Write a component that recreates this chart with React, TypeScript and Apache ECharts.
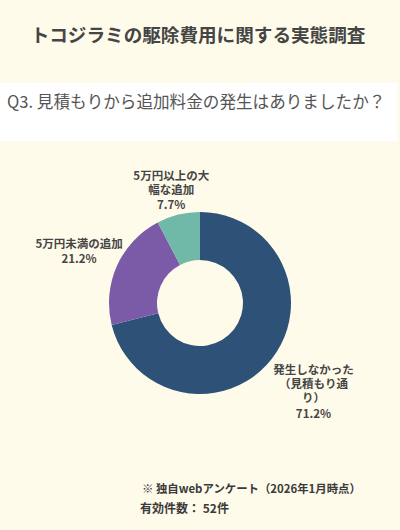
import * as echarts from 'echarts'
import { useEffect, useRef } from 'react'

// 回答カテゴリ（時計回り、12時の位置から）
const categories = ['発生しなかった（見積もり通り）', '5万円未満の追加', '5万円以上の大幅な追加']
// ラベル表示用の改行位置（元図の折り返しに合わせる）
const labelLines = [['発生しなかった', '（見積もり通', 'り）'], ['5万円未満の追加'], ['5万円以上の大', '幅な追加']]
const percents = [71.2, 21.2, 7.7]
const colors = ['#2e5177', '#7b5ba8', '#70b8a8']

const titleText = 'トコジラミの駆除費用に関する実態調査'
const questionText = 'Q3. 見積もりから追加料金の発生はありましたか？'
const noteLines = ['※ 独自webアンケート（2026年1月時点）', '有効件数： 52件']

const FONT = '"Noto Sans CJK JP", "Noto Sans", sans-serif'
const BG = '#fefbea'
const TEXT = '#454545'

// ラベル線は非表示だが、長さでラベル位置を調整する
const labelOffsets = [
  { length: 53, length2: -5 },
  { length: 35, length2: 1 },
  { length: 25, length2: -4 },
]

export default function App() {
  const ref = useRef<HTMLDivElement>(null)

  useEffect(() => {
    if (!ref.current) return
    const chart = echarts.init(ref.current, undefined, { renderer: 'svg' })
    chart.setOption({
      animation: false,
      backgroundColor: BG,
      textStyle: { fontFamily: FONT },
      graphic: [
        {
          type: 'rect',
          shape: { x: 0, y: 83, width: 397, height: 58 },
          style: { fill: '#ffffff' },
          z: -1,
        },
        {
          type: 'text',
          x: 198,
          y: 33,
          style: {
            text: titleText,
            fill: TEXT,
            font: `bold 18.6px ${FONT}`,
            textAlign: 'center',
            textVerticalAlign: 'middle',
          },
        },
        {
          type: 'text',
          x: 7,
          y: 101,
          style: {
            text: questionText,
            fill: '#555555',
            font: `16.6px ${FONT}`,
            textAlign: 'left',
            textVerticalAlign: 'middle',
          },
        },
        ...noteLines.map((t, i) => ({
          type: 'text',
          x: i === 0 ? 142 : 140,
          y: 488 + i * 19,
          style: {
            text: t,
            fill: '#3a3a3a',
            font: `bold ${i === 0 ? 11.4 : 12}px ${FONT}`,
            textAlign: 'left',
            textVerticalAlign: 'middle',
          },
        })),
      ],
      series: [
        {
          type: 'pie',
          center: [200, 303],
          radius: [43, 91],
          startAngle: 90,
          clockwise: true,
          avoidLabelOverlap: false,
          label: {
            show: true,
            position: 'outside',
            formatter: (p: { dataIndex: number; value: number }) =>
              [...labelLines[p.dataIndex].map((l) => `{n|${l}}`), `{p|${p.value.toFixed(1)}%}`].join('\n'),
            rich: {
              n: {
                fontFamily: FONT,
                fontSize: 11.5,
                fontWeight: 'bold',
                color: TEXT,
                lineHeight: 14,
                align: 'center',
              },
              p: {
                fontFamily: FONT,
                fontSize: 11.5,
                fontWeight: 'bold',
                color: TEXT,
                lineHeight: 17,
                align: 'center',
              },
            },
          },
          labelLine: { show: false },
          labelLayout: () => ({ align: 'center' }),
          data: categories.map((name, i) => ({
            name,
            value: percents[i],
            itemStyle: { color: colors[i] },
            labelLine: { show: false, ...labelOffsets[i] },
          })),
        },
      ],
    })
    return () => chart.dispose()
  }, [])

  return (
    <div
      ref={ref}
      style={{ position: 'fixed', left: 0, top: 0, width: 400, height: 530 }}
    />
  )
}
